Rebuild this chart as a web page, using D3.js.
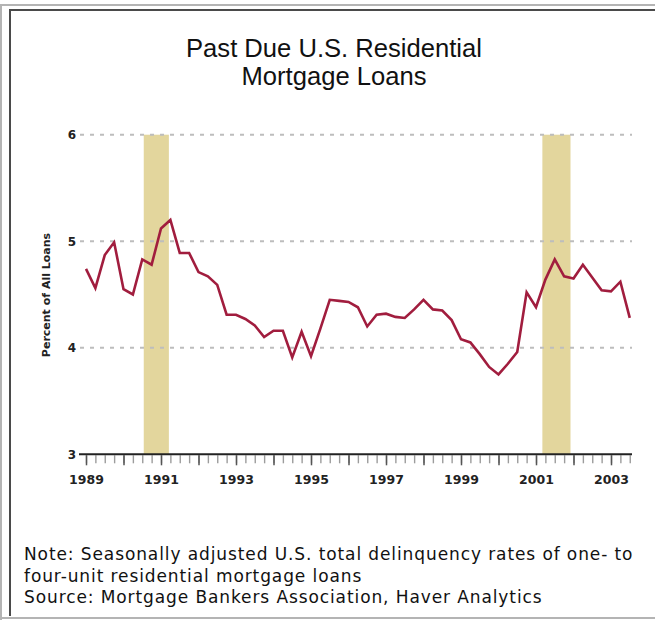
<!DOCTYPE html>
<html>
<head>
<meta charset="utf-8">
<script src="https://cdn.jsdelivr.net/npm/d3@7"></script>
<style>
  body { margin: 0; background: #fff; }
  svg { display: block; }
</style>
</head>
<body>
<svg id="chart" width="655" height="621"></svg>
<script>
// ---- data -------------------------------------------------------------
const titleLines = ["Past Due U.S. Residential", "Mortgage Loans"];
const noteLines = [
  "Note: Seasonally adjusted U.S. total delinquency rates of one- to",
  "four-unit residential mortgage loans",
  "Source: Mortgage Bankers Association, Haver Analytics"
];
const yAxisTitle = "Percent of All Loans";

// quarterly series, first value is 1989 Q1
const firstQuarter = 1989;
const delinquencyRate = [
  4.74, 4.56, 4.87, 4.99,   // 1989
  4.55, 4.50, 4.83, 4.78,   // 1990
  5.12, 5.20, 4.89, 4.89,   // 1991
  4.71, 4.67, 4.59, 4.31,   // 1992
  4.31, 4.27, 4.21, 4.10,   // 1993
  4.16, 4.16, 3.91, 4.15,   // 1994
  3.92, 4.18, 4.45, 4.44,   // 1995
  4.43, 4.38, 4.20, 4.31,   // 1996
  4.32, 4.29, 4.28, 4.36,   // 1997
  4.45, 4.36, 4.35, 4.26,   // 1998
  4.08, 4.05, 3.94, 3.82,   // 1999
  3.75, 3.85, 3.96, 4.52,   // 2000
  4.38, 4.64, 4.83, 4.67,   // 2001
  4.65, 4.78, 4.66, 4.54,   // 2002
  4.53, 4.62, 4.28          // 2003
];

// recession periods (decimal years)
const recessions = [[1990.54, 1991.21], [2001.17, 2001.92]];

const yearLabels = [1989, 1991, 1993, 1995, 1997, 1999, 2001, 2003];
const rateTicks = [3, 4, 5, 6];
const gridRates = [4, 5, 6];

// ---- layout ------------------------------------------------------------
const svg = d3.select("#chart");
const x = d3.scaleLinear().domain([1989, 2003.5]).range([86, 629.75]);
const y = d3.scaleLinear().domain([3, 6]).range([454.3, 134.7]);
const axisLeftEnd = 79, axisRightEnd = 632;

const labelFont = "'DejaVu Sans', Verdana, sans-serif";

// outer frame lines
const frame = svg.append("g");
frame.append("rect").attr("x", 0).attr("y", 4).attr("width", 655).attr("height", 2).attr("fill", "#b4b4b4");
frame.append("rect").attr("x", 0).attr("y", 4).attr("width", 2).attr("height", 616).attr("fill", "#b4b4b4");
frame.append("rect").attr("x", 0).attr("y", 617).attr("width", 655).attr("height", 2).attr("fill", "#b4b4b4");
frame.append("rect").attr("x", 9).attr("y", 9).attr("width", 646).attr("height", 2).attr("fill", "#4a4a4a");
frame.append("rect").attr("x", 9).attr("y", 9).attr("width", 2).attr("height", 607).attr("fill", "#4a4a4a");

// title
svg.append("g").selectAll("text").data(titleLines).join("text")
  .attr("x", 334)
  .attr("y", (d, i) => 57 + i * 28)
  .attr("text-anchor", "middle")
  .attr("font-family", "'Liberation Sans', Arial, sans-serif")
  .attr("font-size", 25.6)
  .attr("fill", "#111")
  .text(d => d);

// recession shading
svg.append("g").selectAll("rect").data(recessions).join("rect")
  .attr("x", d => x(d[0]))
  .attr("width", d => x(d[1]) - x(d[0]))
  .attr("y", y(6))
  .attr("height", y(3) - y(6))
  .attr("fill", "#e3d69d");

// dashed gridlines
svg.append("g").selectAll("line").data(gridRates).join("line")
  .attr("x1", 80).attr("x2", axisRightEnd)
  .attr("y1", d => y(d)).attr("y2", d => y(d))
  .attr("stroke", "#bdbdbd")
  .attr("stroke-width", 2)
  .attr("stroke-dasharray", "4,6");

// series line
const series = delinquencyRate.map((v, i) => ({ t: firstQuarter + i / 4, v }));
svg.append("path")
  .datum(series)
  .attr("fill", "none")
  .attr("stroke", "#a11d3e")
  .attr("stroke-width", 2.6)
  .attr("stroke-linejoin", "miter")
  .attr("d", d3.line().x(d => x(d.t)).y(d => y(d.v)));

// x axis: quarterly ticks, yearly ticks, year labels
const quarterTicks = d3.range(0, 59).map(i => firstQuarter + i / 4);
const yearTicks = d3.range(1989, 2004);

const minorAxis = svg.append("g")
  .attr("transform", `translate(0,${y(3) + 1})`)
  .call(d3.axisBottom(x).tickValues(quarterTicks).tickSize(8).tickFormat(""));
minorAxis.select(".domain").remove();
minorAxis.selectAll(".tick line").attr("stroke", "#9c9c9c").attr("stroke-width", 1.4);

const majorAxis = svg.append("g")
  .attr("transform", `translate(0,${y(3) + 1})`)
  .call(d3.axisBottom(x).tickValues(yearTicks).tickSize(10).tickFormat(""));
majorAxis.select(".domain").remove();
majorAxis.selectAll(".tick line").attr("stroke", "#555").attr("stroke-width", 1.5);

const labelAxis = svg.append("g")
  .attr("transform", `translate(0,${y(3)})`)
  .call(d3.axisBottom(x).tickValues(yearLabels).tickSize(0).tickPadding(21).tickFormat(d3.format("d")));
labelAxis.select(".domain").remove();
labelAxis.selectAll("text")
  .attr("font-family", labelFont)
  .attr("font-weight", "bold")
  .attr("font-size", 12.5)
  .attr("fill", "#222");

// baseline
svg.append("line")
  .attr("x1", axisLeftEnd).attr("x2", axisRightEnd)
  .attr("y1", y(3)).attr("y2", y(3))
  .attr("stroke", "#222").attr("stroke-width", 2);

// y labels
svg.append("g").selectAll("text").data(rateTicks).join("text")
  .attr("x", 76)
  .attr("y", d => y(d))
  .attr("dy", "0.36em")
  .attr("text-anchor", "end")
  .attr("font-family", labelFont)
  .attr("font-weight", "bold")
  .attr("font-size", 12)
  .attr("fill", "#222")
  .text(d => d);

// y axis title
svg.append("text")
  .attr("transform", "translate(50,295) rotate(-90)")
  .attr("text-anchor", "middle")
  .attr("font-family", labelFont)
  .attr("font-weight", "bold")
  .attr("font-size", 11)
  .attr("fill", "#222")
  .text(yAxisTitle);

// note & source
svg.append("g").selectAll("text").data(noteLines).join("text")
  .attr("x", 24)
  .attr("y", (d, i) => 560 + i * 21.5)
  .attr("font-family", labelFont)
  .attr("font-size", 17)
  .attr("letter-spacing", 0.9)
  .attr("fill", "#111")
  .text(d => d);
</script>
</body>
</html>
